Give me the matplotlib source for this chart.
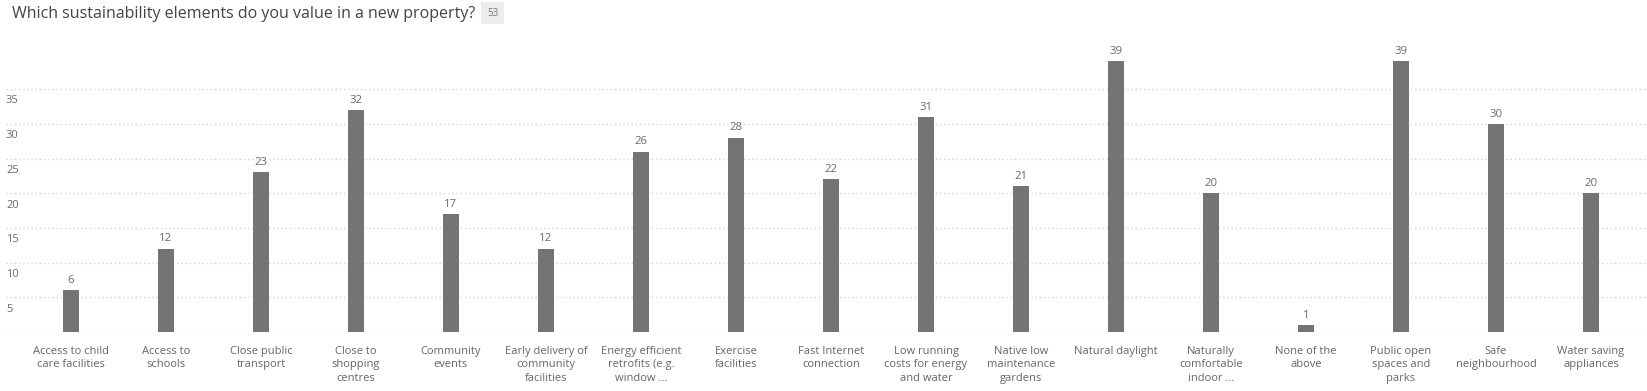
import numpy as np
import matplotlib
matplotlib.use('Agg')
import matplotlib.pyplot as plt
import matplotlib.transforms as mtransforms

# Chart data
title = 'Which sustainability elements do you value in a new property?'
responses = 53
categories = [
    'Access to child\ncare facilities',
    'Access to\nschools',
    'Close public\ntransport',
    'Close to\nshopping\ncentres',
    'Community\nevents',
    'Early delivery of\ncommunity\nfacilities',
    'Energy efficient\nretrofits (e.g.\nwindow ...',
    'Exercise\nfacilities',
    'Fast Internet\nconnection',
    'Low running\ncosts for energy\nand water',
    'Native low\nmaintenance\ngardens',
    'Natural daylight',
    'Naturally\ncomfortable\nindoor ...',
    'None of the\nabove',
    'Public open\nspaces and\nparks',
    'Safe\nneighbourhood',
    'Water saving\nappliances',
]
counts = [6, 12, 23, 32, 17, 12, 26, 28, 22, 31, 21, 39, 20, 1, 39, 30, 20]
y_ticks = [5, 10, 15, 20, 25, 30, 35]

W, H = 1647, 391
DPI = 100
plt.rcParams['font.family'] = ['Open Sans', 'DejaVu Sans']

fig = plt.figure(figsize=(W / DPI, H / DPI), dpi=DPI)
fig.patch.set_facecolor('white')

# axes in pixel terms: left edge 6px, baseline at 332px, top at 40px
ax = fig.add_axes([6 / W, (H - 332) / H, 1 - 6 / W, (332 - 40) / H])
ax.set_facecolor('white')

x = np.arange(len(categories))
px_per_cat = 95.0
ax.set_xlim(-0.5 - (23.5 - 6) / px_per_cat, len(categories) - 0.5 + (W - 1638.5) / px_per_cat)
ax.set_ylim(0, (332 - 40) / 6.94)

# dotted gridlines incl. baseline
for v in [0] + y_ticks:
    ax.axhline(v, color='#d4d4d4', lw=1, linestyle=(0, (1, 2)), zorder=0)

bar_w = 16 / px_per_cat
ax.bar(x, counts, width=bar_w, color='#747474', zorder=2)

# value labels above bars
for xi, v in zip(x, counts):
    ax.annotate(str(v), (xi, v), xytext=(0, 7), textcoords='offset points',
                ha='center', va='center', fontsize=8.2, color='#6a6a6a')

# y labels sit just under their gridline, at the left edge
trans = mtransforms.blended_transform_factory(ax.transAxes, ax.transData)
for v in y_ticks:
    ax.annotate(str(v), (0, v), xycoords=trans, xytext=(0, -8.5),
                textcoords='offset points', ha='left', va='center',
                fontsize=8, color='#6a6a6a')

ax.set_xticks(x)
ax.set_xticklabels(categories, fontsize=8, color='#666666', linespacing=1.3)
ax.tick_params(axis='x', length=0, pad=10)
ax.set_yticks([])
for s in ax.spines.values():
    s.set_visible(False)

# title and response count badge
fig.text(12 / W, 1 - 14 / H, title, fontsize=11.5, color='#444444', ha='left', va='center')
fig.text(487 / W, 1 - 13 / H, str(responses), fontsize=7, color='#777777',
         ha='left', va='center',
         bbox=dict(boxstyle='square,pad=0.6', fc='#ececec', ec='none'))

fig.savefig('out.png', dpi=DPI)
